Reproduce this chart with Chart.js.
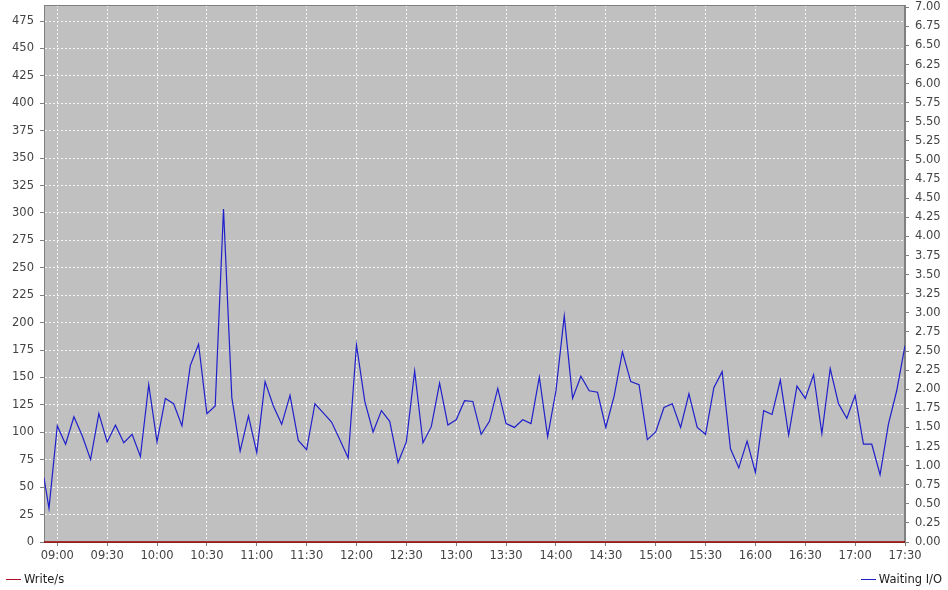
<!DOCTYPE html>
<html>
<head>
<meta charset="utf-8">
<script src="https://cdn.jsdelivr.net/npm/chart.js@4.4.0/dist/chart.umd.min.js"></script>
<style>
  body { margin: 0; background: #ffffff; }
  #wrap { position: relative; width: 948px; height: 590px; }
  .legend { position: absolute; top: 572px; font: 11.5px "DejaVu Sans", sans-serif; color: #222; white-space: nowrap; }
  .legend span.line { display: inline-block; width: 15px; height: 0; border-top: 1px solid; vertical-align: middle; margin-right: 3px; }
</style>
</head>
<body>
<div id="wrap">
  <canvas id="chart" width="948" height="590"></canvas>
  <div class="legend" style="left:6px"><span class="line" style="border-color:#b0102a"></span>Write/s</div>
  <div class="legend" style="right:6px"><span class="line" style="border-color:#1f1fcc"></span>Waiting I/O</div>
</div>
<script>
// sample times (HH:MM)
const times = [
  '08:52', '08:55',
  '09:00', '09:05', '09:10', '09:15', '09:20', '09:25', '09:30', '09:35', '09:40', '09:45', '09:50', '09:55',
  '10:00', '10:05', '10:10', '10:15', '10:20', '10:25', '10:30', '10:35', '10:40', '10:45', '10:50', '10:55',
  '11:00', '11:05', '11:10', '11:15', '11:20', '11:25', '11:30', '11:35', '11:40', '11:45', '11:50', '11:55',
  '12:00', '12:05', '12:10', '12:15', '12:20', '12:25', '12:30', '12:35', '12:40', '12:45', '12:50', '12:55',
  '13:00', '13:05', '13:10', '13:15', '13:20', '13:25', '13:30', '13:35', '13:40', '13:45', '13:50', '13:55',
  '14:00', '14:05', '14:10', '14:15', '14:20', '14:25', '14:30', '14:35', '14:40', '14:45', '14:50', '14:55',
  '15:00', '15:05', '15:10', '15:15', '15:20', '15:25', '15:30', '15:35', '15:40', '15:45', '15:50', '15:55',
  '16:00', '16:05', '16:10', '16:15', '16:20', '16:25', '16:30', '16:35', '16:40', '16:45', '16:50', '16:55',
  '17:00', '17:05', '17:10', '17:15', '17:20', '17:25', '17:30'
];

// Waiting I/O (right axis)
const waitingIO = [
  0.84, 0.44,
  1.52, 1.28, 1.64, 1.39, 1.08, 1.68, 1.31, 1.53, 1.30, 1.41, 1.12, 2.06,
  1.31, 1.88, 1.81, 1.52, 2.31, 2.59, 1.68, 1.78, 4.36, 1.89, 1.19, 1.65,
  1.17, 2.10, 1.78, 1.54, 1.92, 1.33, 1.21, 1.81, 1.69, 1.57, 1.34, 1.10,
  2.58, 1.84, 1.44, 1.72, 1.58, 1.04, 1.31, 2.24, 1.30, 1.51, 2.08, 1.53,
  1.60, 1.85, 1.84, 1.41, 1.58, 2.01, 1.55, 1.50, 1.60, 1.55, 2.16, 1.38,
  1.98, 2.96, 1.88, 2.17, 1.98, 1.96, 1.50, 1.91, 2.49, 2.10, 2.06, 1.34,
  1.44, 1.76, 1.81, 1.50, 1.94, 1.50, 1.41, 2.02, 2.23, 1.22, 0.97, 1.32,
  0.91, 1.72, 1.67, 2.12, 1.40, 2.04, 1.88, 2.19, 1.42, 2.27, 1.81, 1.62,
  1.92, 1.28, 1.28, 0.88, 1.54, 1.98, 2.57
];

// Write/s (left axis) - flat at zero
const writeRate = [
  0, 0,
  0, 0, 0, 0, 0, 0, 0, 0, 0, 0, 0, 0,
  0, 0, 0, 0, 0, 0, 0, 0, 0, 0, 0, 0,
  0, 0, 0, 0, 0, 0, 0, 0, 0, 0, 0, 0,
  0, 0, 0, 0, 0, 0, 0, 0, 0, 0, 0, 0,
  0, 0, 0, 0, 0, 0, 0, 0, 0, 0, 0, 0,
  0, 0, 0, 0, 0, 0, 0, 0, 0, 0, 0, 0,
  0, 0, 0, 0, 0, 0, 0, 0, 0, 0, 0, 0,
  0, 0, 0, 0, 0, 0, 0, 0, 0, 0, 0, 0,
  0, 0, 0, 0, 0, 0, 0
];

const xTickLabels = ['09:00', '09:30', '10:00', '10:30', '11:00', '11:30', '12:00', '12:30', '13:00',
                     '13:30', '14:00', '14:30', '15:00', '15:30', '16:00', '16:30', '17:00', '17:30'];
const leftTicks = [0, 25, 50, 75, 100, 125, 150, 175, 200, 225, 250, 275, 300, 325, 350, 375, 400, 425, 450, 475];
const rightTicks = [0, 0.25, 0.5, 0.75, 1, 1.25, 1.5, 1.75, 2, 2.25, 2.5, 2.75, 3, 3.25, 3.5, 3.75,
                    4, 4.25, 4.5, 4.75, 5, 5.25, 5.5, 5.75, 6, 6.25, 6.5, 6.75, 7];

function toMin(s) {
  const [h, m] = s.split(':');
  return parseInt(h) * 60 + parseInt(m);
}
function fmt(v) {
  const h = Math.floor(v / 60), m = Math.round(v % 60);
  return String(h).padStart(2, '0') + ':' + String(m).padStart(2, '0');
}

const font = { family: 'DejaVu Sans', size: 11.5 };

// grey plot background + outline (outline goes under the lines)
const plotBg = {
  id: 'plotBg',
  beforeDraw(chart) {
    const a = chart.chartArea, ctx = chart.ctx;
    ctx.save();
    ctx.fillStyle = '#c0c0c0';
    ctx.fillRect(a.left, a.top, a.right - a.left, a.bottom - a.top);
    ctx.restore();
  },
  beforeDatasetsDraw(chart) {
    const a = chart.chartArea, ctx = chart.ctx;
    ctx.save();
    ctx.strokeStyle = '#808080';
    ctx.lineWidth = 1;
    ctx.strokeRect(a.left + 0.5, a.top + 0.5, a.right - a.left - 1, a.bottom - a.top);
    ctx.restore();
  }
};

// keep the plot area fixed: no extra room for the end labels
function noPad(s) {
  s.paddingTop = 0;
  s.paddingBottom = 0;
}

new Chart(document.getElementById('chart'), {
  type: 'line',
  data: {
    datasets: [{
      label: 'Write/s',
      data: times.map((t, i) => ({ x: toMin(t), y: writeRate[i] })),
      borderColor: '#990000',
      borderWidth: 1.5,
      pointRadius: 0,
      clip: 3,
      yAxisID: 'y'
    }, {
      label: 'Waiting I/O',
      data: times.map((t, i) => ({ x: toMin(t), y: waitingIO[i] })),
      borderColor: '#1f1fcc',
      borderWidth: 1.2,
      pointRadius: 0,
      yAxisID: 'y1'
    }]
  },
  options: {
    responsive: false,
    animation: false,
    layout: { padding: { top: 5, left: 0, right: 0, bottom: 0 } },
    plugins: { legend: { display: false }, tooltip: { enabled: false } },
    scales: {
      x: {
        type: 'linear',
        min: toMin(times[0]),
        max: toMin(times[times.length - 1]),
        afterBuildTicks: s => { s.ticks = xTickLabels.map(t => ({ value: toMin(t) })); },
        afterFit: s => { s.height = 48; },
        ticks: { callback: v => fmt(v), font: font, color: '#444', padding: 3, maxRotation: 0, autoSkip: false },
        grid: { color: 'rgba(255,255,255,0.85)', lineWidth: 1, tickLength: 4, tickColor: '#808080', tickBorderDash: [] },
        border: { display: true, color: '#808080', dash: [2, 2] }
      },
      y: {
        position: 'left',
        min: 0,
        max: 489.6,
        afterBuildTicks: s => { s.ticks = leftTicks.map(v => ({ value: v })); },
        afterFit: s => { s.width = 44; noPad(s); },
        ticks: { font: font, color: '#444', padding: 6 },
        grid: { color: 'rgba(255,255,255,0.85)', lineWidth: 1, tickLength: 4, tickColor: '#808080', tickBorderDash: [] },
        border: { display: true, color: '#808080', dash: [2, 2] }
      },
      y1: {
        position: 'right',
        min: 0,
        max: 7.03,
        afterBuildTicks: s => { s.ticks = rightTicks.map(v => ({ value: v })); },
        afterFit: s => { s.width = 43; noPad(s); },
        ticks: { font: font, color: '#444', padding: 6, callback: v => v.toFixed(2) },
        grid: { drawOnChartArea: false, tickLength: 4, tickColor: '#808080' },
        border: { display: true, color: '#808080' }
      }
    }
  },
  plugins: [plotBg]
});
</script>
</body>
</html>
